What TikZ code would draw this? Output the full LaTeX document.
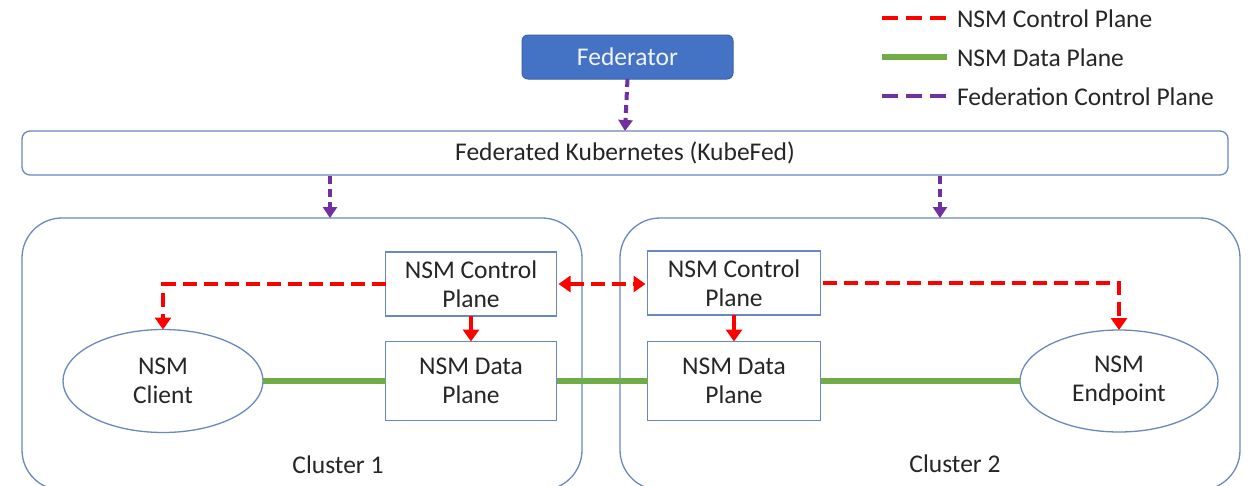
\documentclass[tikz,border=0pt]{standalone}
\usepackage{fontspec}
\setmainfont{Carlito}
\usetikzlibrary{arrows.meta,shapes.geometric}
\definecolor{boxblue}{HTML}{6A88C0}
\definecolor{fedblue}{HTML}{4472C4}
\definecolor{fededge}{HTML}{3A62A8}
\definecolor{nsmred}{HTML}{FF0000}
\definecolor{nsmgreen}{HTML}{70AD47}
\definecolor{fedpurple}{HTML}{7030A0}
\definecolor{txt}{HTML}{262626}
\begin{document}
\begin{tikzpicture}[x=1pt,y=-1pt,
  every node/.style={font=\fontsize{25.5}{29}\selectfont, text=txt, outer sep=0pt, inner sep=0pt, align=center},
  plainbox/.style={draw=boxblue, line width=1.3pt, rectangle},
  cluster/.style={draw=boxblue, line width=1.3pt, rectangle, rounded corners=40pt},
  ellnode/.style={draw=boxblue, line width=1.3pt, ellipse},
  ctrl/.style={draw=nsmred, line width=4pt, dash pattern=on 14pt off 7pt},
  ctrlsolid/.style={draw=nsmred, line width=4pt},
  data/.style={draw=nsmgreen, line width=5.5pt},
  fed/.style={draw=fedpurple, line width=4pt, dash pattern=on 8pt off 5pt},
  redtip/.style={-{Triangle[width=16pt,length=12pt]}},
  purptip/.style={-{Triangle[width=14pt,length=11pt]}}
]
\useasboundingbox (0,0) rectangle (1248,485);
\fill[white] (0,0) rectangle (1248,485);

% legend
\coordinate (l1a) at (882,18); \coordinate (l1b) at (947,18);
\coordinate (l2a) at (882,57); \coordinate (l2b) at (947,57);
\coordinate (l3a) at (882,96); \coordinate (l3b) at (947,96);
\draw[ctrl, dash pattern=on 16pt off 8pt] (l1a) -- (l1b);
\draw[data] (l2a) -- (l2b);
\draw[fed, dash pattern=on 16pt off 8pt] (l3a) -- (l3b);
\node[anchor=west] (lt1) at (957,19) {NSM Control Plane};
\node[anchor=west] (lt2) at (957,58) {NSM Data Plane};
\node[anchor=west] (lt3) at (957,97) {Federation Control Plane};

% federator and kubefed
\node[draw=fededge, fill=fedblue, line width=1pt, rounded corners=6pt, minimum width=211pt, minimum height=44pt, text=white!92!fedblue] (fed) at (627.5,57) {Federator};
\node[plainbox, rounded corners=8pt, minimum width=1206pt, minimum height=44pt] (kube) at (625,153) {Federated Kubernetes (KubeFed)};

% clusters
\node[cluster, minimum width=560pt, minimum height=272pt] (c1) at (302,354) {};
\node[cluster, minimum width=620pt, minimum height=272pt] (c2) at (930,354) {};
\node (c1l) at (338,465) {Cluster 1};
\node (c2l) at (955,464) {Cluster 2};

% inner nodes
\node[plainbox, minimum width=171pt, minimum height=64pt] (cp1) at (471,284) {NSM Control\\Plane};
\node[plainbox, minimum width=171pt, minimum height=79pt] (dp1) at (471,381) {NSM Data\\Plane};
\node[plainbox, minimum width=173pt, minimum height=64pt] (cp2) at (734,283) {NSM Control\\Plane};
\node[plainbox, minimum width=173pt, minimum height=79pt] (dp2) at (734,381) {NSM Data\\Plane};
\node[ellnode, minimum width=200pt, minimum height=103pt] (cl) at (163,381) {NSM\\Client};
\node[ellnode, minimum width=198pt, minimum height=102pt] (ep) at (1119,381) {NSM\\Endpoint};

% federation control plane arrows
\coordinate (k1) at (330,175.5);
\coordinate (k2) at (940,175.5);
\draw[fed, purptip] (fed.south) -- (kube.north);
\draw[fed, purptip] (k1) -- (k1 |- c1.north);
\draw[fed, purptip] (k2) -- (k2 |- c2.north);

% data plane
\draw[data] (cl.east) -- (dp1.west);
\draw[data] (dp1.east) -- (dp2.west);
\draw[data] (dp2.east) -- (ep.west);

% NSM control plane
\draw[ctrl, redtip] (cp1.west) -| (cl.north);
\draw[ctrl, redtip] ([xshift=2pt]cp2.east) -| (ep.north);
\draw[ctrl, {Triangle[width=16pt,length=12pt]}-{Triangle[width=16pt,length=12pt]}, shorten <=2pt, shorten >=2pt] (cp1.east) -- (cp1.east -| cp2.west);
\draw[ctrlsolid, redtip] (cp1.south) -- (dp1.north);
\draw[ctrlsolid, redtip] (cp2.south) -- (dp2.north);
\end{tikzpicture}
\end{document}
